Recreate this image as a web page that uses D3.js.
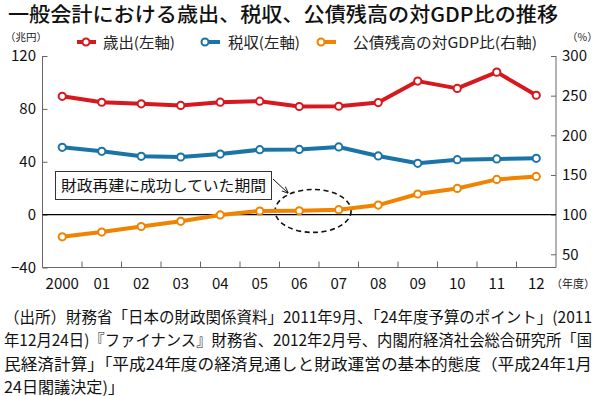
<!DOCTYPE html>
<html>
<head>
<meta charset="utf-8">
<script src="https://cdn.jsdelivr.net/npm/d3@7"></script>
<style>
  html, body { margin: 0; padding: 0; background: #fff; }
  svg { display: block; }
</style>
</head>
<body>
<div id="chart"></div>
<script>
// 一般会計の歳出・税収（兆円、左軸）と公債残高の対GDP比（%、右軸）

const years = ["2000","01","02","03","04","05","06","07","08","09","10","11","12"];

const spending = [89.5, 85.0, 83.8, 82.6, 85.1, 85.8, 81.8, 82.0, 84.8, 101.0, 95.5, 107.8, 90.3];  // 歳出
const taxes    = [50.9, 47.9, 44.1, 43.6, 45.8, 49.1, 49.3, 51.2, 44.4, 38.8, 41.6, 42.1, 42.6];   // 税収
const debtGdp  = [72, 78, 85, 91.6, 99.6, 104.6, 104.9, 106.2, 112, 126, 133, 144.4, 148.2];     // 公債残高の対GDP比

const leftTicks  = [-40, 0, 40, 80, 120];
const rightTicks = [50, 100, 150, 200, 250, 300];

const footer = [
  "（出所）財務省「日本の財政関係資料」2011年9月、「24年度予算のポイント」(2011",
  "年12月24日)『ファイナンス』財務省、2012年2月号、内閣府経済社会総合研究所「国",
  "民経済計算」「平成24年度の経済見通しと財政運営の基本的態度（平成24年1月",
  "24日閣議決定)」"
];

const RED = "#d7181f", BLUE = "#1a74a7", ORANGE = "#f08300";
const FONT = "'Noto Sans CJK JP', 'Noto Sans', sans-serif";
const NUMFONT = "'Liberation Sans Narrow', 'Noto Sans CJK JP', sans-serif";

const width = 600, height = 396;
const plot = { left: 42.5, right: 556, top: 56, bottom: 267.5 };

const svg = d3.select("#chart").append("svg")
  .attr("width", width)
  .attr("height", height)
  .style("font-family", FONT);

const x = d3.scaleBand()
  .domain(years)
  .range([plot.left, plot.right]);

const yLeft = d3.scaleLinear()
  .domain([-40, 120])
  .range([plot.bottom, plot.top]);

// 0兆円 と 100% が同じ高さ
const yRight = d3.scaleLinear()
  .domain([100 - 200 / 3, 300])
  .range([plot.bottom, plot.top]);

// title
svg.append("text")
  .attr("x", 8)
  .attr("y", 22)
  .attr("font-size", "20px")
  .attr("font-weight", "500")
  .attr("fill", "#111")
  .attr("textLength", 550)
  .attr("lengthAdjust", "spacingAndGlyphs")
  .text("一般会計における歳出、税収、公債残高の対GDP比の推移");

// unit labels
svg.append("text")
  .attr("x", 5).attr("y", 41)
  .attr("font-size", "10.5px").attr("fill", "#222")
  .text("（兆円）");
svg.append("text")
  .attr("x", 567).attr("y", 41)
  .attr("font-size", "10.5px").attr("fill", "#222")
  .text("（%）");

// legend
const legend = [
  { label: "歳出(左軸)", color: RED, lx: 77, tx: 103, len: 72, mid: true },
  { label: "税収(左軸)", color: BLUE, lx: 201, tx: 228, len: 72, mid: false },
  { label: "公債残高の対GDP比(右軸)", color: ORANGE, lx: 317, tx: 353, len: 184, mid: false },
];
legend.forEach(item => {
  const g = svg.append("g");
  const cx = item.mid ? item.lx + 9 : item.lx + 4;
  g.append("line")
    .attr("x1", item.mid ? item.lx : cx).attr("x2", item.lx + 19)
    .attr("y1", 42).attr("y2", 42)
    .attr("stroke", item.color).attr("stroke-width", 4);
  g.append("circle")
    .attr("cx", cx).attr("cy", 42).attr("r", 3.5)
    .attr("fill", "#fff").attr("stroke", item.color).attr("stroke-width", 2);
  g.append("text")
    .attr("x", item.tx).attr("y", 47.5)
    .attr("font-size", "14.5px").attr("fill", "#222")
    .attr("textLength", item.len)
    .attr("lengthAdjust", "spacingAndGlyphs")
    .text(item.label);
});

// axes
const axisColor = "#666";

const leftAxis = svg.append("g")
  .attr("transform", `translate(${plot.left},0)`)
  .call(d3.axisRight(yLeft).tickValues(leftTicks).tickSize(5).tickFormat(""));
leftAxis.select(".domain").attr("stroke", axisColor).attr("d", `M0,${plot.top}V${plot.bottom}`);
leftAxis.selectAll(".tick line").attr("stroke", axisColor);

svg.append("g").selectAll("text")
  .data(leftTicks)
  .join("text")
  .attr("x", 36)
  .attr("y", d => yLeft(d))
  .attr("dy", "0.36em")
  .attr("text-anchor", "end")
  .attr("font-family", NUMFONT)
  .attr("font-size", "15px")
  .attr("fill", "#111")
  .text(d => d < 0 ? "−" + Math.abs(d) : d);

const rightAxis = svg.append("g")
  .attr("transform", `translate(${plot.right},0)`)
  .call(d3.axisLeft(yRight).tickValues(rightTicks).tickSize(5).tickFormat(""));
rightAxis.select(".domain").attr("stroke", axisColor).attr("d", `M0,${plot.top}V${plot.bottom}`);
rightAxis.selectAll(".tick line").attr("stroke", axisColor);

svg.append("g").selectAll("text")
  .data(rightTicks)
  .join("text")
  .attr("x", 562)
  .attr("y", d => yRight(d))
  .attr("dy", "0.36em")
  .attr("font-family", NUMFONT)
  .attr("font-size", "15px")
  .attr("fill", "#111")
  .text(d => d);

// bottom axis, ticks between years pointing up
svg.append("line")
  .attr("x1", plot.left).attr("x2", plot.right)
  .attr("y1", plot.bottom).attr("y2", plot.bottom)
  .attr("stroke", axisColor);
svg.append("g").selectAll("line")
  .data(years.slice(1))
  .join("line")
  .attr("x1", d => x(d)).attr("x2", d => x(d))
  .attr("y1", plot.bottom).attr("y2", plot.bottom - 6)
  .attr("stroke", axisColor);

svg.append("g").selectAll("text")
  .data(years)
  .join("text")
  .attr("x", d => x(d) + x.bandwidth() / 2)
  .attr("y", 289)
  .attr("text-anchor", "middle")
  .attr("font-family", NUMFONT)
  .attr("font-size", "15px")
  .attr("fill", "#111")
  .text(d => d);

svg.append("text")
  .attr("x", 551).attr("y", 288)
  .attr("font-size", "11px").attr("fill", "#222")
  .text("（年度）");

// zero line
svg.append("line")
  .attr("x1", plot.left).attr("x2", plot.right)
  .attr("y1", yLeft(0)).attr("y2", yLeft(0))
  .attr("stroke", "#000").attr("stroke-width", 1.3);

// dashed ellipse around 06–07
const ellipseX = x("06") + x.bandwidth() * 0.85;
svg.append("ellipse")
  .attr("cx", ellipseX)
  .attr("cy", yLeft(2.8))
  .attr("rx", 38)
  .attr("ry", 21.5)
  .attr("fill", "none")
  .attr("stroke", "#111")
  .attr("stroke-width", 1.6)
  .attr("stroke-dasharray", "5 3.5");

// series
const cx = (d, i) => x(years[i]) + x.bandwidth() / 2;
const seriesList = [
  { values: spending, color: RED, y: yLeft },
  { values: taxes, color: BLUE, y: yLeft },
  { values: debtGdp, color: ORANGE, y: yRight },
];
seriesList.forEach(s => {
  svg.append("path")
    .datum(s.values)
    .attr("fill", "none")
    .attr("stroke", s.color)
    .attr("stroke-width", 4)
    .attr("stroke-linejoin", "round")
    .attr("d", d3.line().x(cx).y(d => s.y(d)));
  svg.append("g").selectAll("circle")
    .data(s.values)
    .join("circle")
    .attr("cx", cx)
    .attr("cy", d => s.y(d))
    .attr("r", 3.6)
    .attr("fill", "#fff")
    .attr("stroke", s.color)
    .attr("stroke-width", 2);
});

// annotation box
svg.append("rect")
  .attr("x", 55.5).attr("y", 171.5)
  .attr("width", 216).attr("height", 28)
  .attr("fill", "#fff")
  .attr("stroke", "#333").attr("stroke-width", 1);
svg.append("text")
  .attr("x", 61).attr("y", 191)
  .attr("font-size", "15px").attr("fill", "#111")
  .attr("textLength", 205)
  .attr("lengthAdjust", "spacingAndGlyphs")
  .text("財政再建に成功していた期間");

svg.append("defs").append("marker")
  .attr("id", "arrow")
  .attr("viewBox", "0 0 10 10")
  .attr("refX", 9).attr("refY", 5)
  .attr("markerWidth", 7).attr("markerHeight", 7)
  .attr("orient", "auto")
  .append("path")
  .attr("d", "M0,1L10,5L0,9")
  .attr("fill", "none")
  .attr("stroke", "#111")
  .attr("stroke-width", 1.3);
svg.append("line")
  .attr("x1", 273).attr("y1", 179)
  .attr("x2", 288).attr("y2", 193)
  .attr("stroke", "#111").attr("stroke-width", 1)
  .attr("marker-end", "url(#arrow)");

// source note
const footerLengths = [588, 588, 588, 120];
footer.forEach((line, i) => {
  svg.append("text")
    .attr("x", 4)
    .attr("y", 323 + i * 23.3)
    .attr("font-size", "15.5px")
    .attr("fill", "#111")
    .attr("textLength", footerLengths[i])
    .attr("lengthAdjust", "spacingAndGlyphs")
    .text(line);
});
</script>
</body>
</html>
